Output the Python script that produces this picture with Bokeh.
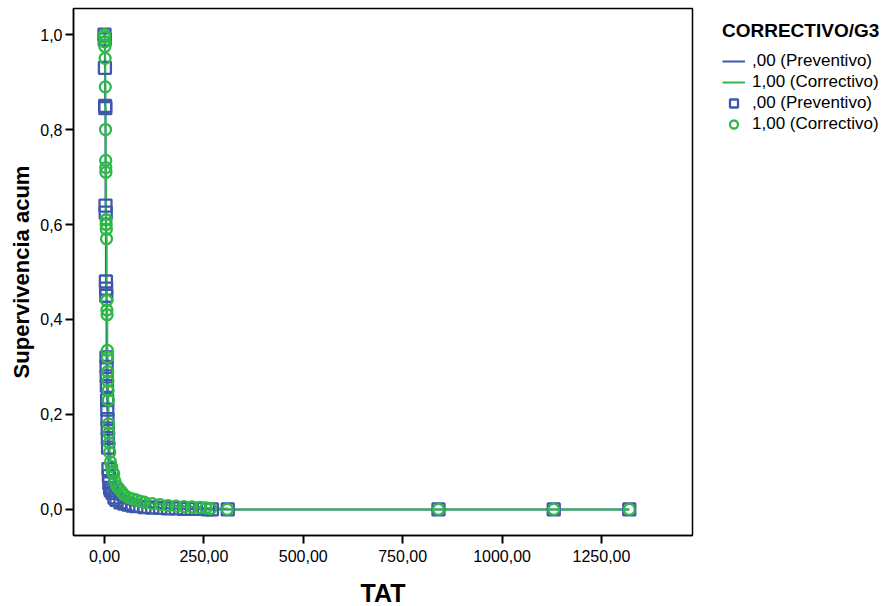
from bokeh.plotting import figure
from bokeh.models import Range1d, FixedTicker, Legend, LegendItem
from bokeh.embed import file_html
from bokeh.resources import INLINE

# ---- data ----
t_prev = [0, 0.5, 1, 1.5, 2, 2.5, 3, 3.5, 4, 4.5, 5, 5.2, 5.5, 6, 6.5, 7, 7.5, 8, 8.5, 9,
          10, 11, 12, 14, 16, 20, 25, 30, 40, 50, 60, 70, 80, 100, 120, 140, 160, 180,
          200, 220, 240, 260, 270, 310, 840, 1130, 1320]
s_prev = [1.0, 0.99, 0.93, 0.85, 0.845, 0.64, 0.625, 0.48, 0.465, 0.45, 0.32, 0.30, 0.28,
          0.26, 0.23, 0.21, 0.19, 0.17, 0.15, 0.13, 0.085, 0.07, 0.055, 0.045, 0.04, 0.035,
          0.025, 0.02, 0.015, 0.012, 0.01, 0.008, 0.007, 0.005, 0.004, 0.003, 0.002, 0.002,
          0.001, 0.001, 0.001, 0.0, 0.0, 0.0, 0.0, 0.0, 0.0]

t_corr = [0, 0.3, 0.6, 1, 1.5, 2, 2.5, 3, 3.2, 3.5, 4, 4.2, 4.5, 5, 5.5, 6, 6.5, 7, 7.5, 8,
          8.5, 9, 9.5, 10, 11, 12, 13, 15, 18, 20, 23, 26, 30, 35, 40, 45, 50, 60, 70, 80,
          90, 100, 120, 140, 160, 180, 200, 220, 240, 255, 267, 309, 840, 1130, 1320]
s_corr = [1.0, 0.995, 0.985, 0.975, 0.95, 0.89, 0.80, 0.735, 0.72, 0.71, 0.61, 0.60, 0.59,
          0.57, 0.44, 0.42, 0.41, 0.335, 0.32, 0.29, 0.27, 0.25, 0.23, 0.18, 0.16, 0.14, 0.12,
          0.10, 0.09, 0.08, 0.075, 0.06, 0.05, 0.045, 0.04, 0.035, 0.03, 0.025, 0.022, 0.02,
          0.017, 0.015, 0.012, 0.01, 0.008, 0.007, 0.006, 0.005, 0.004, 0.003, 0.002, 0.0,
          0.0, 0.0, 0.0]

x_ticks = [0, 250, 500, 750, 1000, 1250]
x_tick_labels = ["0,00", "250,00", "500,00", "750,00", "1000,00", "1250,00"]
y_ticks = [0.0, 0.2, 0.4, 0.6, 0.8, 1.0]
y_tick_labels = ["0,0", "0,2", "0,4", "0,6", "0,8", "1,0"]

legend_title = "CORRECTIVO/G3"
labels = [",00 (Preventivo)", "1,00 (Correctivo)"]

BLUE = "#3E58AC"
GREEN = "#2EB848"
FONT = "Liberation Sans"

p = figure(width=889, height=606, output_backend="svg", toolbar_location=None,
           x_range=Range1d(-78, 1479), y_range=Range1d(-0.055, 1.055),
           frame_width=619, frame_height=527,
           min_border_left=73, min_border_top=8, min_border_bottom=71, min_border_right=197)

p.grid.visible = False
p.outline_line_color = "black"
p.outline_line_width = 1.5
p.background_fill_color = "white"
p.border_fill_color = "white"

r_lp = p.step(t_prev, s_prev, mode="after", line_color=BLUE, line_width=2)
r_lc = p.step(t_corr, s_corr, mode="after", line_color=GREEN, line_width=2)
r_sp = p.scatter(t_prev, s_prev, marker="square", size=12, fill_color=None,
                 line_color=BLUE, line_width=2.3)
r_sc = p.scatter(t_corr, s_corr, marker="circle", size=11, fill_color=None,
                 line_color=GREEN, line_width=2.3)

for ax, ticks, labs in ((p.xaxis[0], x_ticks, x_tick_labels), (p.yaxis[0], y_ticks, y_tick_labels)):
    ax.ticker = FixedTicker(ticks=ticks)
    ax.major_label_overrides = {t: l for t, l in zip(ticks, labs)}
    ax.minor_tick_line_color = None
    ax.major_tick_in = 0
    ax.major_tick_out = 8
    ax.major_tick_line_width = 2
    ax.major_tick_line_color = "black"
    ax.axis_line_color = "black"
    ax.axis_line_width = 1.5
    ax.major_label_text_font = FONT
    ax.major_label_text_font_size = "16px"
    ax.major_label_text_color = "black"
    ax.axis_label_text_font = FONT
    ax.axis_label_text_font_style = "bold"
    ax.axis_label_text_color = "black"

p.xaxis.axis_label = "TAT"
p.xaxis.axis_label_text_font_size = "25px"
p.xaxis.major_label_standoff = 6
p.xaxis.axis_label_standoff = 14
p.yaxis.axis_label = "Supervivencia acum"
p.yaxis.axis_label_text_font_size = "22px"
p.yaxis.major_label_standoff = 3
p.yaxis.axis_label_standoff = 3

legend = Legend(items=[
    LegendItem(label=labels[0], renderers=[r_lp]),
    LegendItem(label=labels[1], renderers=[r_lc]),
    LegendItem(label=labels[0], renderers=[r_sp]),
    LegendItem(label=labels[1], renderers=[r_sc]),
], location=(30, 401))
legend.title = legend_title
legend.title_text_font = FONT
legend.title_text_font_style = "bold"
legend.title_text_font_size = "19px"
legend.title_text_color = "black"
legend.title_standoff = 9
legend.label_text_font = FONT
legend.label_text_font_size = "17px"
legend.label_text_color = "black"
legend.label_standoff = 7
legend.glyph_width = 23
legend.glyph_height = 20
legend.label_height = 20
legend.spacing = 1
legend.padding = 0
legend.margin = 0
legend.border_line_color = None
legend.background_fill_alpha = 0
p.add_layout(legend, "right")

open("out.html", "w").write(file_html(p, INLINE))
